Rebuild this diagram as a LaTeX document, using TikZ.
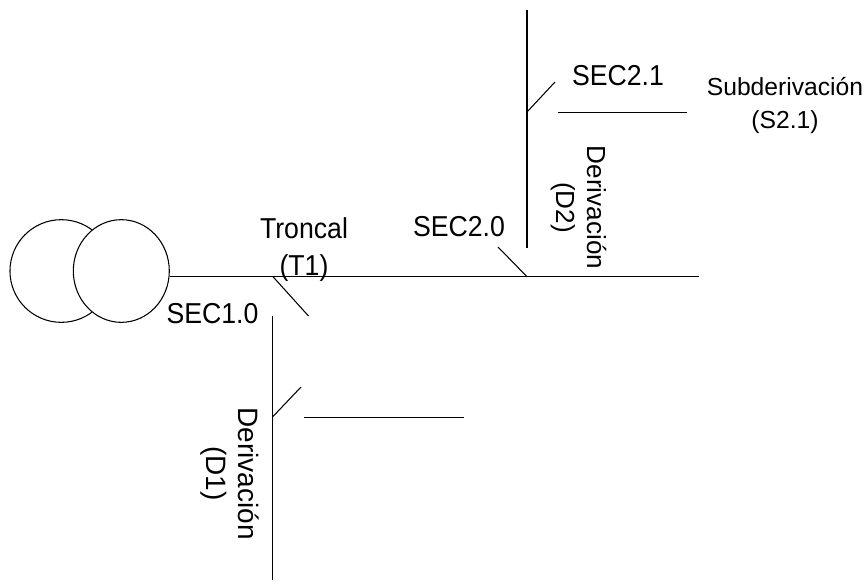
\documentclass[tikz,border=0pt]{standalone}
\usepackage{fontspec}
\setmainfont{Liberation Sans}
\usepackage{tikz}
\usetikzlibrary{positioning,shapes.geometric}
\tikzset{
  wire/.style={draw=black,line width=0.8pt},
  winding/.style={ellipse,draw=black,fill=white,line width=0.8pt,inner sep=0pt},
  label/.style={font=\fontsize{20}{25.7}\selectfont,align=center,inner sep=0pt,transform shape,yscale=1.08},
  sublabel/.style={font=\fontsize{18.5}{25}\selectfont,align=center,inner sep=0pt},
  sidelabel/.style={font=\fontsize{21}{24}\selectfont,align=center,inner sep=0pt,rotate=-90},
  sidelabelsmall/.style={font=\fontsize{19.6}{23}\selectfont,align=center,inner sep=0pt,rotate=-90}
}
\begin{document}
\begin{tikzpicture}[x=0.75pt,y=-0.75pt]
  \useasboundingbox (0,0) rectangle (867,583);
  % transformer
  \node[winding,minimum width=77pt,minimum height=77pt] (primary) at (61.3,271) {};
  \node[winding,minimum width=72pt,minimum height=77pt] (secondary) at (121.3,271) {};
  % troncal
  \coordinate (busEnd) at (699,276.7);
  \coordinate (tapOne) at (273,276.7);
  \coordinate (tapTwo) at (527,276.7);
  \draw[wire] (secondary.east |- busEnd) -- (busEnd);
  % derivacion 1
  \coordinate (swOneEnd) at (308.5,316);
  \coordinate (oneTop) at (272.5,316);
  \coordinate (oneBottom) at (272.5,580);
  \coordinate (oneTap) at (272.5,417);
  \coordinate (swSubOne) at (301,387);
  \coordinate (subOneStart) at (304,417.5);
  \coordinate (subOneEnd) at (464,417.5);
  \draw[wire] (tapOne) -- (swOneEnd);
  \draw[wire] (oneTop) -- (oneBottom);
  \draw[wire] (oneTap) -- (swSubOne);
  \draw[wire] (subOneStart) -- (subOneEnd);
  % derivacion 2
  \coordinate (twoTop) at (527,10);
  \coordinate (twoBottom) at (527,248);
  \coordinate (swTwoEnd) at (498,247);
  \coordinate (twoTap) at (527,112);
  \coordinate (swSubTwo) at (555,82);
  \coordinate (subTwoStart) at (558,112.5);
  \coordinate (subTwoEnd) at (687,112.5);
  \draw[wire] (twoTop) -- (twoBottom);
  \draw[wire] (tapTwo) -- (swTwoEnd);
  \draw[wire] (twoTap) -- (swSubTwo);
  \draw[wire] (subTwoStart) -- (subTwoEnd);
  % labels
  \node[label] (troncal) at (304,249.5) {Troncal\\(T1)};
  \node[label] (secOne) at (212.5,314) {SEC1.0};
  \node[label] (secTwo) at (459,226.5) {SEC2.0};
  \node[label] (secSub) at (618,76) {SEC2.1};
  \node[sublabel] (subDer) at (785,105.5) {Subderivación\\(S2.1)};
  \node[sidelabel] (derOne) at (230,473.5) {Derivación\\(D1)};
  \node[sidelabelsmall] (derTwo) at (579,207.5) {Derivación\\(D2)};
\end{tikzpicture}
\end{document}
